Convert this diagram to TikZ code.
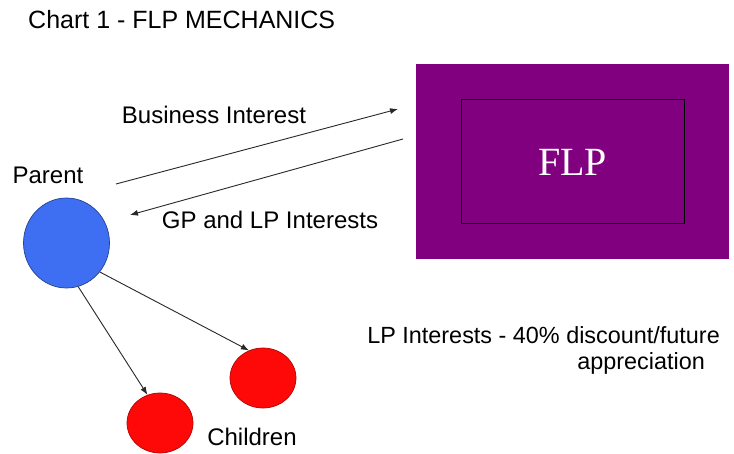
\documentclass[tikz,border=0pt]{standalone}
\usepackage{fontspec}
\setmainfont{Liberation Sans}
\newfontfamily\serifface{Liberation Serif}
\usetikzlibrary{arrows.meta,shapes.geometric}
\definecolor{flppurple}{RGB}{128,0,128}
\definecolor{parentblue}{RGB}{62,110,242}
\definecolor{childred}{RGB}{255,8,8}
\definecolor{linegray}{RGB}{40,40,40}
\begin{document}
\begin{tikzpicture}[x=1pt,y=-1pt,
  lbl/.style={inner sep=0pt,font=\fontsize{24}{28}\selectfont},
  flow/.style={draw=linegray,line width=0.9pt,-{Latex[length=8pt,width=6pt]}},
  person/.style={ellipse,inner sep=0pt,line width=0.7pt}]
\useasboundingbox (0,0) rectangle (734,453);
\fill[white] (0,0) rectangle (734,453);

% title
\node[lbl,font=\fontsize{25}{29}\selectfont,anchor=west] (title) at (28,20) {Chart 1 - FLP MECHANICS};

% the partnership block
\node[fill=flppurple,minimum width=313pt,minimum height=195pt,inner sep=0pt] (flp) at (572.5,161.5) {};
\node[draw=black,line width=1pt,minimum width=223pt,minimum height=124pt,inner sep=0pt] (flpin) at (572.5,161) {};
\node[text=white,font=\serifface\fontsize{40}{44}\selectfont,inner sep=0pt] (flptext) at (572.5,162) {FLP};

% family members
\node[person,fill=parentblue,draw=parentblue!60!black,minimum width=86pt,minimum height=90pt] (parent) at (66.5,243) {};
\node[person,fill=childred,draw=childred!70!black,minimum width=66pt,minimum height=60pt] (c1) at (263,378) {};
\node[person,fill=childred,draw=childred!70!black,minimum width=66pt,minimum height=60pt] (c2) at (160,423) {};

% labels
\node[lbl] (lparent) at (48,175) {Parent};
\node[lbl] (lchildren) at (252,437) {Children};
\node[lbl] (lbus) at (214,115) {Business Interest};
\node[lbl] (lgp) at (270,220) {GP and LP Interests};
\node[lbl,font=\fontsize{23.4}{28}\selectfont,anchor=east] (llp) at (720,335) {LP Interests - 40\% discount/future};
\node[lbl,font=\fontsize{23.4}{28}\selectfont,anchor=east] (lapp) at (705,363) {appreciation};

% interest transfers
\coordinate (busA) at (116,184);
\coordinate (busB) at (398,109);
\coordinate (gpA) at (403,139);
\coordinate (gpB) at (130,215);
\draw[flow] (busA) -- (busB);
\draw[flow] (gpA) -- (gpB);
\draw[flow] (parent.-41) -- (c1.117);
\draw[flow] (parent.-75) -- (c2.114);
\end{tikzpicture}
\end{document}
